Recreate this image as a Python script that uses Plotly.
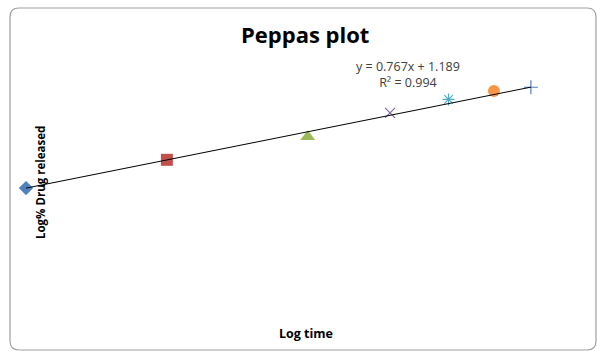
import plotly.graph_objects as go

# Peppas model data: log time vs log % drug released
time_h = [0.5, 1, 2, 3, 4, 5, 6]
log_time = [-0.301, 0.0, 0.301, 0.477, 0.602, 0.699, 0.778]
log_release = [0.958, 1.19, 1.38, 1.575, 1.685, 1.755, 1.785]

# Linear trendline as reported
slope = 0.767
intercept = 1.189
r_squared = 0.994

marker_symbols = ["diamond", "square", "triangle-up", "x-thin-open",
                  "asterisk-open", "circle", "cross-thin-open"]
marker_colors = ["#4F81BD", "#C0504D", "#9BBB59", "#8064A2",
                 "#4BACC6", "#F79646", "#4F81BD"]
marker_sizes = [11, 12, 13, 10, 10, 12, 10]

W, H = 597, 351
ML, MR, MT, MB = 12, 9, 61, 46
PW, PH = W - ML - MR, H - MT - MB


def px(x):
    return (x - ML) / PW


def py(y):
    return (H - MB - y) / PH


fig = go.Figure()

for i in range(len(log_time)):
    open_sym = marker_symbols[i].endswith("-open")
    fig.add_trace(go.Scatter(
        x=[log_time[i]], y=[log_release[i]], mode="markers",
        marker=dict(symbol=marker_symbols[i], size=marker_sizes[i],
                    color=marker_colors[i],
                    line=dict(width=1.2 if open_sym else 0,
                              color=marker_colors[i])),
        showlegend=False, hoverinfo="x+y"))

# trendline across the data span
x0, x1 = min(log_time), max(log_time)
fig.add_trace(go.Scatter(
    x=[x0, x1], y=[slope * x0 + intercept, slope * x1 + intercept],
    mode="lines", line=dict(color="#000000", width=1),
    showlegend=False, hoverinfo="skip"))

# rounded chart border
bx0, by0, bx1, by1, r = 10, 8, 596, 350, 9
path = (f"M {px(bx0 + r)} {py(by0)} L {px(bx1 - r)} {py(by0)} "
        f"Q {px(bx1)} {py(by0)} {px(bx1)} {py(by0 + r)} "
        f"L {px(bx1)} {py(by1 - r)} Q {px(bx1)} {py(by1)} {px(bx1 - r)} {py(by1)} "
        f"L {px(bx0 + r)} {py(by1)} Q {px(bx0)} {py(by1)} {px(bx0)} {py(by1 - r)} "
        f"L {px(bx0)} {py(by0 + r)} Q {px(bx0)} {py(by0)} {px(bx0 + r)} {py(by0)} Z")


def label(text, x, y, size, color="#000000", angle=0):
    return dict(text=text, x=px(x), y=py(y), xref="paper", yref="paper",
                xanchor="center", yanchor="middle", showarrow=False,
                textangle=angle, font=dict(size=size, color=color))


fig.update_layout(
    width=W, height=H,
    margin=dict(l=ML, r=MR, t=MT, b=MB),
    paper_bgcolor="white", plot_bgcolor="white",
    font=dict(family="Open Sans, sans-serif", color="#000000"),
    xaxis=dict(range=[-0.331, 0.9], visible=False),
    yaxis=dict(range=[0, 2], visible=False),
    shapes=[dict(type="path", path=path, xref="paper", yref="paper",
                 line=dict(color="#A0A0A0", width=1.2), layer="below")],
    annotations=[
        label("<b>Peppas plot</b>", 305, 34, 22),
        label(f"y = {slope}x + {intercept}<br>R² = {r_squared}",
              408, 75, 12.5, "#404040"),
        label("<b>Log time</b>", 306, 333, 12.5),
        label("<b>Log% Drug released</b>", 40, 183, 11.5, angle=-90),
    ],
)

fig.write_html("out.html")
